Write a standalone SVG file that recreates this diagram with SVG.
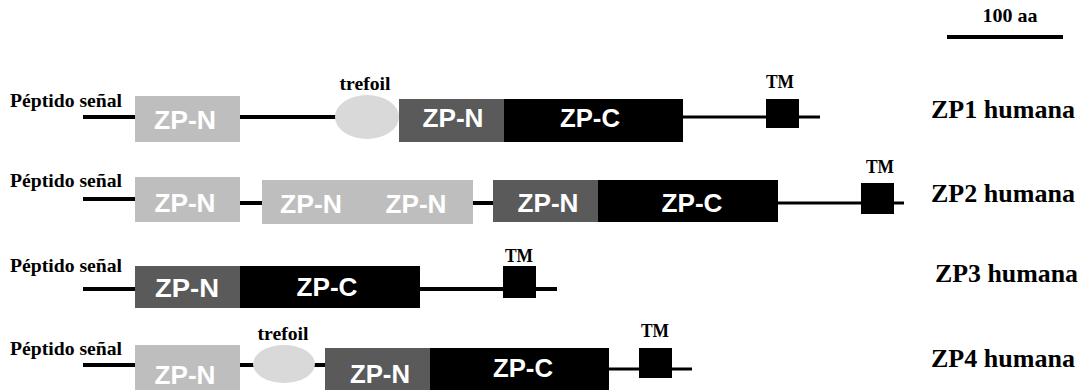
<svg xmlns="http://www.w3.org/2000/svg" width="1085" height="390" viewBox="0 0 1085 390">
  <style>
    .lbl { font-family: "Liberation Serif", "Times New Roman", serif; font-weight: bold; fill: #000; }
    .sm { font-size: 19px; }
    .sp { font-size: 25px; }
    .dom { font-family: "Liberation Sans", Arial, sans-serif; font-weight: bold; font-size: 26px; fill: #fff; text-anchor: middle; }
    .light { fill: #bebebe; }
    .mid { fill: #5a5a5a; }
    .dark { fill: #000; }
    .tref { fill: #d9d9d9; }
    .ln { stroke: #000; stroke-width: 4; fill: none; }
    .ln3 { stroke: #000; stroke-width: 3; fill: none; }
  </style>
  <rect width="1085" height="390" fill="#fff"/>

  <!-- scale bar -->
  <g id="scale">
    <text class="lbl" x="1010" y="22" font-size="19" text-anchor="middle" textLength="55" lengthAdjust="spacingAndGlyphs">100 aa</text>
    <line class="ln" x1="947" y1="37" x2="1063" y2="37"/>
  </g>

  <!-- backbone lines -->
  <g id="connectors">
    <line class="ln" x1="83" y1="117" x2="135" y2="117"/>
    <line class="ln" x1="240" y1="117" x2="340" y2="117"/>
    <line class="ln3" x1="683" y1="117" x2="820" y2="117"/>

    <line class="ln" x1="83" y1="199" x2="135" y2="199"/>
    <line class="ln" x1="240" y1="203" x2="262" y2="203"/>
    <line class="ln" x1="473" y1="203" x2="493" y2="203"/>
    <line class="ln3" x1="778" y1="203" x2="904" y2="203"/>

    <line class="ln" x1="83" y1="289" x2="135" y2="289"/>
    <line class="ln" x1="420" y1="289" x2="557" y2="289"/>

    <line class="ln" x1="83" y1="365" x2="135" y2="365"/>
    <line class="ln" x1="240" y1="365" x2="325" y2="365"/>
    <line class="ln3" x1="609" y1="369" x2="692" y2="369"/>
  </g>

  <!-- ZP1 -->
  <g id="zp1">
    <text class="lbl sm" x="10" y="107" textLength="112" lengthAdjust="spacingAndGlyphs">Péptido señal</text>
    <rect class="light" x="135" y="96" width="105" height="46"/>
    <text class="dom" x="185" y="129" textLength="62" lengthAdjust="spacingAndGlyphs">ZP-N</text>
    <ellipse class="tref" cx="367" cy="117" rx="32" ry="22"/>
    <text class="lbl sm" x="365" y="90" text-anchor="middle" textLength="51" lengthAdjust="spacingAndGlyphs">trefoil</text>
    <rect class="mid" x="399" y="99" width="105" height="43"/>
    <text class="dom" x="453" y="127" textLength="61" lengthAdjust="spacingAndGlyphs">ZP-N</text>
    <rect class="dark" x="504" y="99" width="179" height="43"/>
    <text class="dom" x="590" y="127" textLength="60" lengthAdjust="spacingAndGlyphs">ZP-C</text>
    <rect class="dark" x="766" y="99" width="33" height="29"/>
    <text class="lbl sm" x="780" y="88" text-anchor="middle" textLength="28" lengthAdjust="spacingAndGlyphs">TM</text>
    <text class="lbl sp" x="931" y="118" textLength="144" lengthAdjust="spacingAndGlyphs">ZP1 humana</text>
  </g>

  <!-- ZP2 -->
  <g id="zp2">
    <text class="lbl sm" x="10" y="187" textLength="112" lengthAdjust="spacingAndGlyphs">Péptido señal</text>
    <rect class="light" x="135" y="177" width="105" height="45"/>
    <text class="dom" x="185" y="212" textLength="61" lengthAdjust="spacingAndGlyphs">ZP-N</text>
    <rect class="light" x="262" y="180" width="211" height="44"/>
    <text class="dom" x="311" y="213" textLength="62" lengthAdjust="spacingAndGlyphs">ZP-N</text>
    <text class="dom" x="416" y="213" textLength="61" lengthAdjust="spacingAndGlyphs">ZP-N</text>
    <rect class="mid" x="493" y="180" width="105" height="42"/>
    <text class="dom" x="548" y="212" textLength="61" lengthAdjust="spacingAndGlyphs">ZP-N</text>
    <rect class="dark" x="598" y="180" width="180" height="42"/>
    <text class="dom" x="692" y="212" textLength="61" lengthAdjust="spacingAndGlyphs">ZP-C</text>
    <rect class="dark" x="861" y="183" width="33" height="31"/>
    <text class="lbl sm" x="880" y="173" text-anchor="middle" textLength="28" lengthAdjust="spacingAndGlyphs">TM</text>
    <text class="lbl sp" x="931" y="202" textLength="144" lengthAdjust="spacingAndGlyphs">ZP2 humana</text>
  </g>

  <!-- ZP3 -->
  <g id="zp3">
    <text class="lbl sm" x="10" y="272" textLength="112" lengthAdjust="spacingAndGlyphs">Péptido señal</text>
    <rect class="mid" x="135" y="266" width="105" height="42"/>
    <text class="dom" x="187" y="297" textLength="64" lengthAdjust="spacingAndGlyphs">ZP-N</text>
    <rect class="dark" x="240" y="266" width="180" height="42"/>
    <text class="dom" x="327" y="296" textLength="61" lengthAdjust="spacingAndGlyphs">ZP-C</text>
    <rect class="dark" x="503" y="266" width="33" height="32"/>
    <text class="lbl sm" x="519" y="262" text-anchor="middle" textLength="28" lengthAdjust="spacingAndGlyphs">TM</text>
    <text class="lbl sp" x="935" y="282" textLength="143" lengthAdjust="spacingAndGlyphs">ZP3 humana</text>
  </g>

  <!-- ZP4 -->
  <g id="zp4">
    <text class="lbl sm" x="10" y="355" textLength="112" lengthAdjust="spacingAndGlyphs">Péptido señal</text>
    <rect class="light" x="135" y="345" width="105" height="45"/>
    <text class="dom" x="185" y="384" textLength="61" lengthAdjust="spacingAndGlyphs">ZP-N</text>
    <ellipse class="tref" cx="284" cy="364" rx="31" ry="19"/>
    <text class="lbl sm" x="283" y="340" text-anchor="middle" textLength="51" lengthAdjust="spacingAndGlyphs">trefoil</text>
    <rect class="mid" x="325" y="348" width="105" height="42"/>
    <text class="dom" x="380" y="383" textLength="60" lengthAdjust="spacingAndGlyphs">ZP-N</text>
    <rect class="dark" x="430" y="348" width="179" height="42"/>
    <text class="dom" x="523" y="377" textLength="60" lengthAdjust="spacingAndGlyphs">ZP-C</text>
    <rect class="dark" x="639" y="348" width="33" height="30"/>
    <text class="lbl sm" x="655" y="337" text-anchor="middle" textLength="28" lengthAdjust="spacingAndGlyphs">TM</text>
    <text class="lbl sp" x="931" y="367" textLength="144" lengthAdjust="spacingAndGlyphs">ZP4 humana</text>
  </g>
</svg>
